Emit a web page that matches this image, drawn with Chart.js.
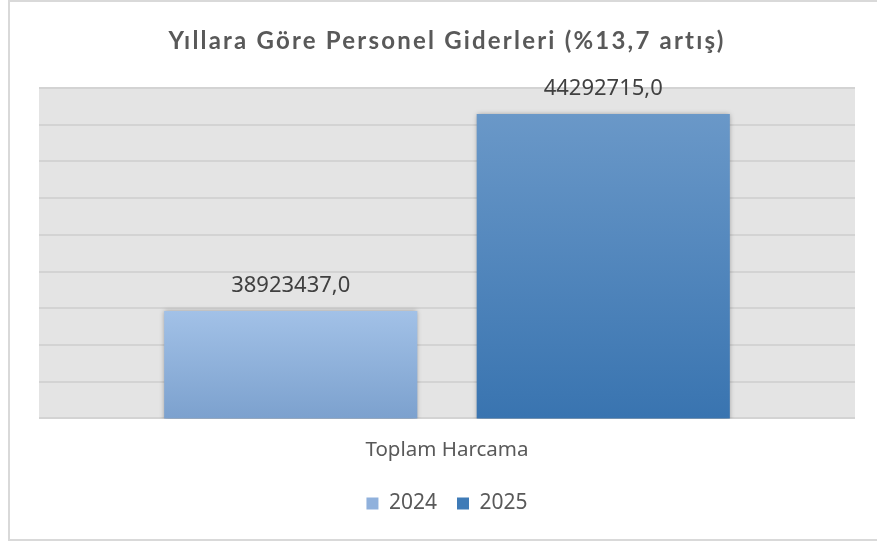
<!DOCTYPE html>
<html lang="tr">
<head>
<meta charset="UTF-8">
<title>Yıllara Göre Personel Giderleri</title>
<script src="https://cdn.jsdelivr.net/npm/chart.js"></script>
<style>
  html, body { margin: 0; padding: 0; background: #fff; }
  .frame {
    position: absolute; left: 8px; top: 0; width: 880px; height: 537px;
    border: 2px solid #d9d9d9; box-sizing: content-box;
  }
  .wrap { position: absolute; left: 0; top: 0; width: 877px; height: 542px; }
</style>
</head>
<body>
<div class="frame"></div>
<div class="wrap"><canvas id="chart" width="877" height="542"></canvas></div>
<script>
// data
const chartTitle = 'Yıllara Göre Personel Giderleri (%13,7 artış)';
const categories = ['Toplam Harcama'];
const years = ['2024', '2025'];
const values2024 = [38923437.0];
const values2025 = [44292715.0];
const yTicks = { min: 36000000, max: 45000000, step: 1000000 };

const gradients = {
  '2024': ['#a2c1e7', '#7ca1ce', '#90b1dc'],
  '2025': ['#6a98c8', '#3974b0', '#3f7bb7']
};

// gradient runs from the top of each bar down to the baseline
function barFill(year) {
  return (context) => {
    const chart = context.chart;
    const area = chart.chartArea;
    const y = chart.scales.y;
    if (!area || !y || context.raw == null) return gradients[year][2];
    const top = y.getPixelForValue(context.raw);
    const g = chart.ctx.createLinearGradient(0, top, 0, area.bottom);
    g.addColorStop(0, gradients[year][0]);
    g.addColorStop(1, gradients[year][1]);
    return g;
  };
}

const plotBackground = {
  id: 'plotBackground',
  beforeDraw(chart) {
    const { ctx, chartArea: a } = chart;
    ctx.save();
    ctx.fillStyle = '#e4e4e4';
    ctx.fillRect(a.left, a.top, a.right - a.left, a.bottom - a.top);
    ctx.restore();
  }
};

const titleText = {
  id: 'titleText',
  afterDraw(chart) {
    const ctx = chart.ctx;
    ctx.save();
    ctx.font = 'bold 24px Lato';
    ctx.letterSpacing = '2.2px';
    ctx.fillStyle = '#595959';
    ctx.textAlign = 'center';
    ctx.textBaseline = 'middle';
    ctx.fillText(chartTitle, 447, 41);
    ctx.restore();
  }
};

const barShadow = {
  id: 'barShadow',
  beforeDatasetsDraw(chart) {
    const ctx = chart.ctx;
    ctx.save();
    ctx.shadowColor = 'rgba(0,0,0,0.35)';
    ctx.shadowBlur = 5;
  },
  afterDatasetsDraw(chart) {
    chart.ctx.restore();
  }
};

const valueLabels = {
  id: 'valueLabels',
  afterDatasetsDraw(chart) {
    const ctx = chart.ctx;
    ctx.save();
    ctx.font = '22px "Noto Sans"';
    ctx.fillStyle = '#404040';
    ctx.textAlign = 'center';
    ctx.textBaseline = 'middle';
    chart.data.datasets.forEach((ds, i) => {
      chart.getDatasetMeta(i).data.forEach((bar, j) => {
        const txt = ds.data[j].toFixed(1).replace('.', ',');
        ctx.fillText(txt, bar.x, bar.y - 25);
      });
    });
    ctx.restore();
  }
};

new Chart(document.getElementById('chart'), {
  type: 'bar',
  data: {
    labels: categories,
    datasets: [
      { label: years[0], data: values2024, backgroundColor: barFill('2024'), borderWidth: 0 },
      { label: years[1], data: values2025, backgroundColor: barFill('2025'), borderWidth: 0 }
    ]
  },
  options: {
    responsive: false,
    animation: false,
    events: [],
    layout: { padding: { left: 39, right: 22, top: 88, bottom: 18 } },
    categoryPercentage: 0.766,
    barPercentage: 0.81,
    scales: {
      x: {
        grid: { display: false },
        border: { display: false },
        ticks: { color: '#595959', font: { family: 'Noto Sans', size: 20.5 }, padding: 11 }
      },
      y: {
        min: yTicks.min,
        max: yTicks.max,
        ticks: { display: false, stepSize: yTicks.step },
        grid: { color: '#d3d3d3', lineWidth: 2, drawTicks: false },
        border: { display: false }
      }
    },
    plugins: {
      title: { display: false },
      legend: {
        position: 'bottom',
        labels: {
          color: '#595959',
          font: { family: 'Noto Sans', size: 21 },
          boxWidth: 12,
          boxHeight: 12,
          padding: 20,
          generateLabels(chart) {
            return chart.data.datasets.map((ds, i) => ({
              text: ds.label,
              fillStyle: gradients[ds.label][2],
              strokeStyle: 'transparent',
              fontColor: '#595959',
              lineWidth: 0,
              datasetIndex: i
            }));
          }
        }
      },
      tooltip: { enabled: false }
    }
  },
  plugins: [plotBackground, barShadow, valueLabels, titleText]
});
</script>
</body>
</html>
